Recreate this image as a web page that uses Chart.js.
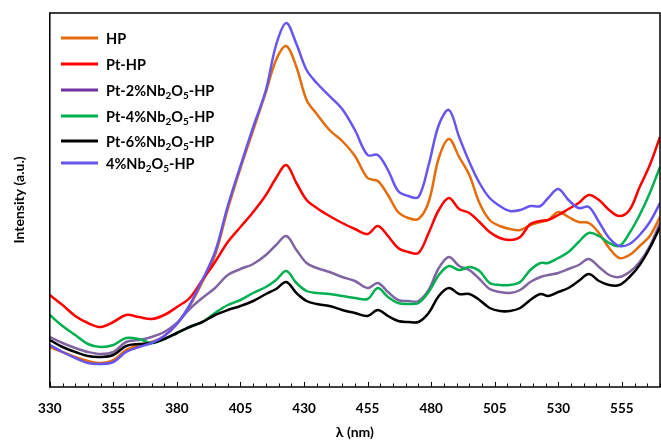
<!DOCTYPE html>
<html>
<head>
<meta charset="utf-8">
<script src="https://cdn.jsdelivr.net/npm/chart.js@4.4.0/dist/chart.umd.min.js"></script>
<style>
  html, body { margin: 0; padding: 0; background: #fff; }
  #wrap { width: 661px; height: 441px; }
</style>
</head>
<body>
<div id="wrap"><canvas id="chart"></canvas></div>
<script>
// wavelength grid (nm) shared by every spectrum
const wavelengths = [330, 335, 340, 345, 350, 355, 360, 365, 370, 375, 380, 385, 390, 395, 400, 405, 410, 415, 419, 423,
  427, 431, 435, 440, 445, 450, 455, 459, 463, 467, 471, 475, 479, 483, 487, 491, 495, 499, 503, 507,
  511, 515, 519, 523, 526, 530, 534, 538, 542, 546, 550, 554, 558, 562, 566, 570];

// intensities (a.u.)
const hp = [40, 35, 30, 26, 24, 27, 37, 42, 45, 51, 63, 81, 105, 132, 178, 219, 257, 295, 327, 341,
  320, 287, 273, 257, 246, 231, 209, 206, 192, 175, 169, 168, 185, 229, 248, 230, 212, 184, 167, 161,
  158, 157, 162, 165, 167, 175, 170, 165, 164, 154, 139, 129, 132, 141, 151, 170];
const ptHp = [92, 82, 71, 64, 60, 65, 72, 70, 68, 72, 80, 89, 107, 125, 145, 160, 175, 192, 209, 222,
  204, 187, 179, 171, 164, 158, 153, 161, 151, 139, 135, 134, 154, 177, 189, 178, 174, 165, 155, 149,
  147, 150, 163, 166, 167, 172, 178, 184, 192, 187, 177, 171, 177, 200, 222, 250];
const pt2Nb = [50, 44, 39, 35, 33, 35, 45, 47, 50, 55, 64, 78, 89, 99, 112, 118, 123, 132, 142, 151,
  137, 124, 119, 115, 110, 106, 99, 104, 95, 87, 86, 86, 97, 119, 130, 121, 117, 108, 98, 95,
  94, 97, 105, 110, 112, 114, 118, 122, 128, 120, 112, 110, 115, 125, 141, 164];
const pt4Nb = [72, 61, 52, 43, 40, 42, 49, 48, 44, 48, 54, 60, 65, 74, 82, 87, 94, 100, 107, 116,
  104, 96, 94, 93, 91, 89, 88, 99, 90, 84, 83, 84, 95, 112, 121, 117, 120, 116, 104, 102,
  102, 105, 117, 124, 124, 129, 135, 145, 154, 151, 144, 141, 154, 172, 194, 220];
const pt6Nb = [47, 40, 35, 31, 30, 32, 41, 43, 44, 48, 54, 60, 65, 72, 77, 81, 86, 93, 98, 105,
  94, 86, 83, 81, 77, 74, 71, 77, 71, 66, 65, 65, 74, 91, 99, 93, 93, 87, 79, 76,
  76, 79, 87, 93, 91, 95, 99, 106, 113, 106, 102, 102, 110, 122, 139, 160];
const nb4 = [42, 35, 29, 24, 23, 25, 35, 40, 44, 51, 63, 82, 107, 135, 181, 221, 260, 297, 342, 364,
  343, 317, 304, 291, 278, 257, 232, 232, 217, 196, 191, 190, 222, 262, 277, 250, 225, 204, 189, 181,
  176, 177, 181, 181, 189, 198, 187, 179, 180, 165, 149, 141, 143, 152, 165, 184];

const seriesNames = ['HP', 'Pt-HP', 'Pt-2%Nb₂O₅-HP', 'Pt-4%Nb₂O₅-HP', 'Pt-6%Nb₂O₅-HP', '4%Nb₂O₅-HP'];
const seriesValues = [hp, ptHp, pt2Nb, pt4Nb, pt6Nb, nb4];
const lineColors = ['#E46C0A', '#FF0000', '#8064A2', '#00B050', '#000000', '#6655EE'];
const legendColors = ['#E46C0A', '#FF0000', '#7030A0', '#00B050', '#000000', '#6655EE'];
const xTicks = [330, 355, 380, 405, 430, 455, 480, 505, 530, 555];

const FONT = 'Lato, "Open Sans", sans-serif';

// box frame plus the small inward ticks on the wavelength axis
const framePlugin = {
  id: 'frame',
  afterDatasetsDraw(chart) {
    const {ctx, chartArea: a, scales: {x}} = chart;
    ctx.save();
    ctx.strokeStyle = '#000';
    ctx.lineWidth = 1.5;
    ctx.strokeRect(a.left, a.top, a.right - a.left, a.bottom - a.top);
    ctx.lineWidth = 1;
    for (let v = x.min; v <= x.max; v += 5) {
      const px = Math.round(x.getPixelForValue(v)) + 0.5;
      const len = xTicks.includes(v) ? 5 : 3.5;
      ctx.beginPath();
      ctx.moveTo(px, a.bottom);
      ctx.lineTo(px, a.bottom - len);
      ctx.stroke();
    }
    ctx.restore();
  }
};

// legend inside the plot, with real subscripts for the Unicode ₀-₉ digits
const legendPlugin = {
  id: 'subLegend',
  afterDraw(chart, args, opts) {
    const {ctx} = chart;
    const subs = '₀₁₂₃₄₅₆₇₈₉';
    ctx.save();
    chart.data.datasets.forEach((ds, i) => {
      const y = opts.rows[i];
      ctx.strokeStyle = legendColors[i];
      ctx.lineWidth = 3;
      ctx.beginPath();
      ctx.moveTo(opts.lineX[0], y);
      ctx.lineTo(opts.lineX[1], y);
      ctx.stroke();
      let tx = opts.textX;
      ctx.fillStyle = '#000';
      ctx.textBaseline = 'alphabetic';
      for (const ch of ds.label) {
        const k = subs.indexOf(ch);
        if (k >= 0) {
          ctx.font = 'bold 10px ' + FONT;
          ctx.fillText(String(k), tx, y + 9);
          tx += ctx.measureText(String(k)).width;
        } else {
          ctx.font = 'bold 14.5px ' + FONT;
          ctx.fillText(ch, tx, y + 5.5);
          tx += ctx.measureText(ch).width;
        }
      }
    });
    ctx.restore();
  }
};

const datasets = seriesValues.map((vals, i) => ({
  label: seriesNames[i],
  data: wavelengths.map((w, j) => ({x: w, y: vals[j]})),
  borderColor: lineColors[i],
  borderWidth: 2.5,
  pointRadius: 0,
  tension: 0.35,
  fill: false,
  order: seriesValues.length - i
}));

new Chart(document.getElementById('chart'), {
  type: 'line',
  data: {datasets},
  options: {
    responsive: true,
    maintainAspectRatio: false,
    animation: false,
    layout: {padding: {left: 0, top: 13, right: 1, bottom: 0}},
    scales: {
      x: {
        type: 'linear',
        min: 330,
        max: 570,
        grid: {display: false, drawTicks: false},
        border: {display: false},
        afterBuildTicks: (scale) => {
          scale.ticks = xTicks.map(v => ({value: v}));
        },
        afterFit: (scale) => {
          scale.height = 54;
        },
        ticks: {
          autoSkip: false,
          maxRotation: 0,
          padding: 14,
          color: '#000',
          font: {family: FONT, size: 13.5, weight: 'bold'}
        },
        title: {
          display: true,
          text: 'λ (nm)',
          color: '#000',
          font: {family: FONT, size: 14, weight: 'bold'},
          padding: {top: 4, bottom: 0}
        }
      },
      y: {
        min: 0,
        max: 374,
        grid: {display: false, drawTicks: false},
        border: {display: false},
        ticks: {display: false},
        title: {
          display: true,
          text: 'Intensity (a.u.)',
          color: '#000',
          font: {family: FONT, size: 14, weight: 'bold'},
          padding: {top: 11, bottom: 22}
        }
      }
    },
    plugins: {
      legend: {display: false},
      tooltip: {enabled: false},
      subLegend: {
        rows: [38, 64, 90, 116, 141, 163],
        lineX: [61, 98],
        textX: 106
      }
    }
  },
  plugins: [framePlugin, legendPlugin]
});
</script>
</body>
</html>
